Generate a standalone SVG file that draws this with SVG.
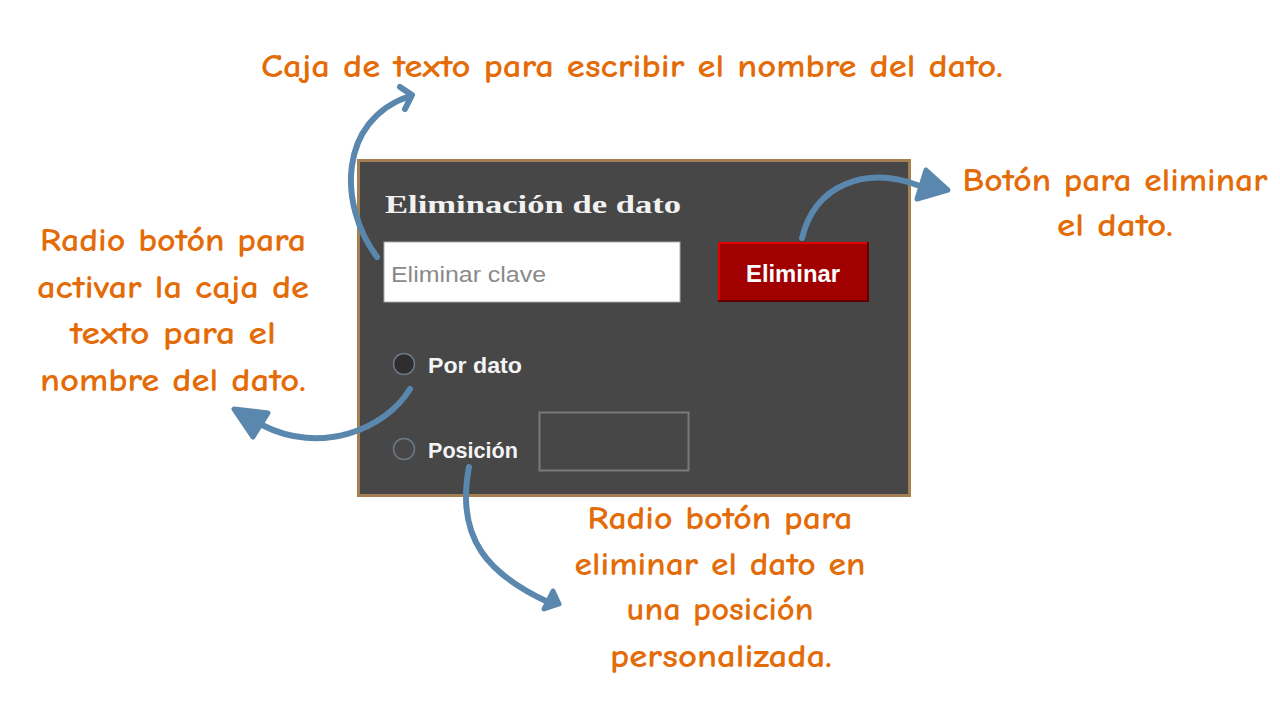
<svg xmlns="http://www.w3.org/2000/svg" width="1280" height="719" viewBox="0 0 1280 719">
<style>
.note{font-family:"Comic Neue","Liberation Sans","DejaVu Sans",sans-serif;font-weight:bold;font-size:33px;fill:#e36c09;text-anchor:middle}
.conn{fill:none;stroke:#5a87ad;stroke-width:6;stroke-linecap:round}
.head{fill:#5a87ad;stroke:#5a87ad;stroke-width:5;stroke-linejoin:round}
.lbl{font-family:"Liberation Sans","DejaVu Sans",sans-serif;font-weight:bold;font-size:22px;fill:#f4f4f4}
.radio{fill:#474747;stroke:#6d7a86;stroke-width:1.5}
</style>
<rect width="1280" height="719" fill="#ffffff"/>
<g id="panel">
<rect x="358.5" y="160.5" width="551" height="335" fill="#474747" stroke="#a57f52" stroke-width="3"/>
<text x="385" y="213" font-family="'Liberation Serif','DejaVu Serif',serif" font-weight="bold" font-size="25" fill="#f2f2f2" textLength="296" lengthAdjust="spacingAndGlyphs">Eliminación de dato</text>
</g>
<g id="input-clave">
<rect x="384" y="242" width="296" height="60" fill="#ffffff" stroke="#aaaaaa" stroke-width="1"/>
<text x="391" y="282" font-family="'Liberation Sans','DejaVu Sans',sans-serif" font-size="22" fill="#8a8a8a" textLength="155" lengthAdjust="spacingAndGlyphs">Eliminar clave</text>
</g>
<g id="btn-eliminar">
<rect x="718" y="242" width="151" height="60" fill="#600000"/>
<rect x="718" y="242" width="149" height="58" fill="#e00000"/>
<rect x="720" y="244" width="147" height="56" fill="#a00000"/>
<text x="793" y="282" font-family="'Liberation Sans','DejaVu Sans',sans-serif" font-weight="bold" font-size="23" fill="#ffffff" text-anchor="middle" textLength="94" lengthAdjust="spacingAndGlyphs">Eliminar</text>
</g>
<g id="radio-por-dato">
<circle cx="404" cy="364" r="10.5" class="radio" style="fill:#2e2e2e"/>
<text x="428" y="373" class="lbl" textLength="94" lengthAdjust="spacingAndGlyphs">Por dato</text>
</g>
<g id="radio-posicion">
<circle cx="404" cy="449" r="10.5" class="radio"/>
<text x="428" y="458" class="lbl" textLength="90" lengthAdjust="spacingAndGlyphs">Posición</text>
<rect x="539.5" y="412.5" width="149" height="58" fill="none" stroke="#7a7a7a" stroke-width="2"/>
</g>
<g id="note-caja">
<text x="632" y="77" class="note" textLength="742" lengthAdjust="spacingAndGlyphs">Caja de texto para escribir el nombre del dato.</text>
</g>
<g id="note-boton">
<text x="1115" y="191" class="note" textLength="305" lengthAdjust="spacingAndGlyphs">Botón para eliminar</text>
<text x="1115" y="236" class="note" textLength="116" lengthAdjust="spacingAndGlyphs">el dato.</text>
</g>
<g id="note-radio-dato">
<text x="173" y="251" class="note" textLength="266" lengthAdjust="spacingAndGlyphs">Radio botón para</text>
<text x="173" y="298" class="note" textLength="272" lengthAdjust="spacingAndGlyphs">activar la caja de</text>
<text x="173" y="344" class="note" textLength="206" lengthAdjust="spacingAndGlyphs">texto para el</text>
<text x="173" y="391" class="note" textLength="266" lengthAdjust="spacingAndGlyphs">nombre del dato.</text>
</g>
<g id="note-radio-posicion">
<text x="720" y="529" class="note" textLength="265" lengthAdjust="spacingAndGlyphs">Radio botón para</text>
<text x="720" y="575" class="note" textLength="291" lengthAdjust="spacingAndGlyphs">eliminar el dato en</text>
<text x="720" y="620" class="note" textLength="187" lengthAdjust="spacingAndGlyphs">una posición</text>
<text x="721" y="667" class="note" textLength="222" lengthAdjust="spacingAndGlyphs">personalizada.</text>
</g>
<g id="connectors">
<path class="conn" d="M377,257 C338,205 338,120 410,96"/>
<path class="conn" d="M400,87 L412,95 L405,109" stroke-linejoin="round"/>
<path class="conn" d="M802,238 C815,185 865,165 920,186"/>
<polygon class="head" points="926,170 948,190 917,199"/>
<path class="conn" d="M410,389 C385,430 320,455 262,425"/>
<polygon class="head" points="234,409 268,413 253,437"/>
<path class="conn" d="M469,467 C455,540 490,575 548,602"/>
<polygon class="head" points="553,591 559,604 544,609"/>
</g>
</svg>
